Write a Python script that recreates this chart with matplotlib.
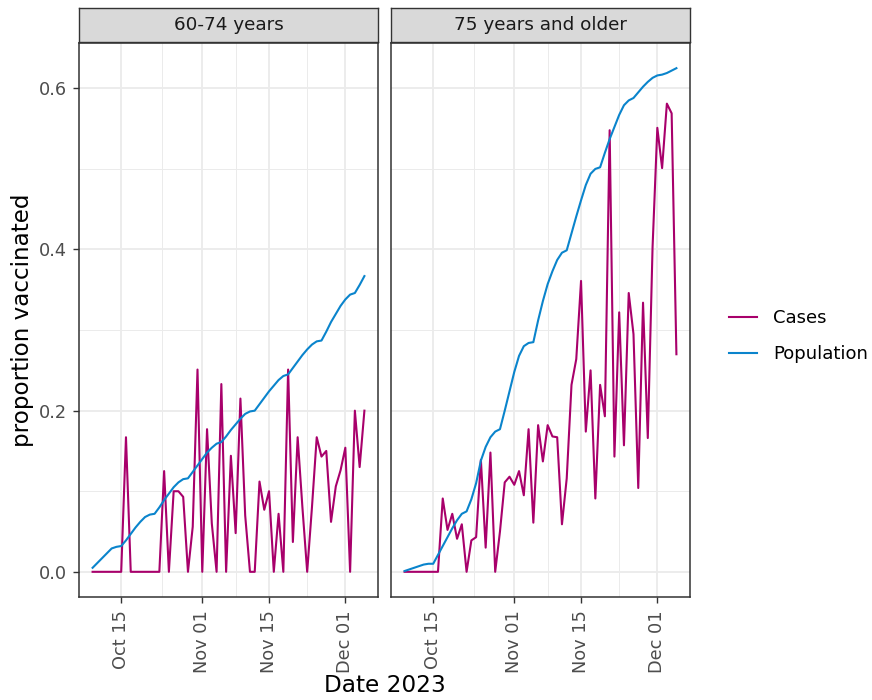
import numpy as np
import matplotlib
matplotlib.use("Agg")
import matplotlib.pyplot as plt
import matplotlib.dates as mdates

# daily values, Oct 09 to Dec 05 2023
dates = np.arange("2023-10-09", "2023-12-06", dtype="datetime64[D]")
panels = ["60-74 years", "75 years and older"]

cases_6074 = [0, 0, 0, 0, 0, 0, 0, 0.167, 0, 0,
              0, 0, 0, 0, 0, 0.125, 0, 0.10, 0.10, 0.093,
              0, 0.056, 0.251, 0, 0.177, 0.06, 0, 0.233, 0, 0.144,
              0.048, 0.215, 0.07, 0, 0, 0.112, 0.077, 0.10, 0, 0.072,
              0, 0.251, 0.037, 0.167, 0.08, 0, 0.08, 0.167, 0.143, 0.15,
              0.062, 0.106, 0.126, 0.154, 0, 0.20, 0.13, 0.20]
pop_6074 = [0.005, 0.011, 0.017, 0.023, 0.029, 0.031, 0.032, 0.039, 0.047, 0.055,
            0.062, 0.068, 0.071, 0.072, 0.080, 0.089, 0.097, 0.105, 0.111, 0.115,
            0.116, 0.124, 0.132, 0.140, 0.148, 0.154, 0.159, 0.161, 0.168, 0.176,
            0.183, 0.190, 0.196, 0.199, 0.200, 0.208, 0.216, 0.224, 0.231, 0.238,
            0.243, 0.245, 0.253, 0.261, 0.269, 0.276, 0.282, 0.286, 0.287, 0.298,
            0.310, 0.320, 0.330, 0.338, 0.344, 0.346, 0.356, 0.367]

cases_75 = [0, 0, 0, 0, 0, 0, 0, 0, 0.091, 0.052,
            0.072, 0.041, 0.059, 0, 0.039, 0.043, 0.139, 0.03, 0.148, 0,
            0.05, 0.111, 0.118, 0.108, 0.125, 0.095, 0.177, 0.061, 0.182, 0.137,
            0.182, 0.168, 0.167, 0.059, 0.116, 0.232, 0.264, 0.361, 0.174, 0.25,
            0.091, 0.232, 0.193, 0.548, 0.143, 0.322, 0.157, 0.346, 0.295, 0.104,
            0.334, 0.166, 0.403, 0.551, 0.501, 0.581, 0.569, 0.27]
pop_75 = [0.001, 0.003, 0.005, 0.007, 0.009, 0.010, 0.010, 0.021, 0.032, 0.043,
          0.054, 0.064, 0.072, 0.075, 0.090, 0.110, 0.138, 0.155, 0.167, 0.174,
          0.177, 0.200, 0.224, 0.248, 0.268, 0.280, 0.284, 0.285, 0.312, 0.336,
          0.357, 0.373, 0.387, 0.396, 0.399, 0.420, 0.441, 0.461, 0.480, 0.494,
          0.500, 0.502, 0.520, 0.537, 0.552, 0.567, 0.579, 0.585, 0.588, 0.595,
          0.602, 0.608, 0.613, 0.616, 0.617, 0.619, 0.622, 0.625]

cases = [cases_6074, cases_75]
pops = [pop_6074, pop_75]

col_cases = "#a8006b"
col_pop = "#0a84cc"

major = np.array(["2023-10-15", "2023-11-01", "2023-11-15", "2023-12-01"], dtype="datetime64[D]")
major_num = mdates.date2num(major)
minor_num = (major_num[:-1] + major_num[1:]) / 2
major_lab = ["Oct 15", "Nov 01", "Nov 15", "Dec 01"]

fig = plt.figure(figsize=(8.72, 7.0), dpi=100)

d0 = mdates.date2num(dates[0])
d1 = mdates.date2num(dates[-1])
xpad = (d1 - d0) * 0.05
ymax = max(max(cases_75), max(pop_75))
ypad = ymax * 0.05

lefts = [79 / 872, 391 / 872]
w = 299 / 872
bottom = 1 - 597 / 700
h = 554 / 700

for i in range(2):
    ax = fig.add_axes([lefts[i], bottom, w, h])
    ax.set_facecolor("white")
    ax.set_xlim(d0 - xpad, d1 + xpad)
    ax.set_ylim(-ypad, ymax + ypad)
    ax.set_xticks(major_num)
    ax.set_xticklabels(major_lab, rotation=90, va="top", ha="center")
    ax.set_xticks(minor_num, minor=True)
    ax.set_yticks([0, 0.2, 0.4, 0.6])
    ax.set_yticks([0.1, 0.3, 0.5], minor=True)
    ax.grid(which="major", color="#ebebeb", lw=1.3, zorder=0)
    ax.grid(which="minor", color="#ebebeb", lw=0.7, zorder=0)
    ax.set_axisbelow(True)
    ax.tick_params(which="major", length=4.4, width=1.0, color="#333333",
                   labelsize=12.8, labelcolor="#4d4d4d")
    ax.tick_params(axis="x", pad=5)
    ax.tick_params(axis="y", pad=4.3)
    ax.tick_params(which="minor", length=0)
    if i == 0:
        ax.set_yticklabels(["0.0", "0.2", "0.4", "0.6"])
    else:
        ax.tick_params(axis="y", which="both", left=False, labelleft=False)
    for s in ax.spines.values():
        s.set_color("#333333")
        s.set_linewidth(1.1)

    ax.plot(dates, cases[i], color=col_cases, lw=1.5, label="Cases")
    ax.plot(dates, pops[i], color=col_pop, lw=1.5, label="Population")

    # facet strip
    sax = fig.add_axes([lefts[i], 1 - 42 / 700, w, 34 / 700])
    sax.set_facecolor("#d9d9d9")
    sax.set_xticks([])
    sax.set_yticks([])
    for s in sax.spines.values():
        s.set_color("#333333")
        s.set_linewidth(1.0)
    sax.text(0.5, 0.5, panels[i], ha="center", va="center", fontsize=13.2,
             color="#1a1a1a", transform=sax.transAxes)

handles, labels = ax.get_legend_handles_labels()
fig.legend(handles, labels, loc="center left", bbox_to_anchor=(729 / 872, 1 - 336 / 700),
           frameon=False, fontsize=13, handlelength=1.55, handletextpad=0.9,
           labelspacing=1.0, borderpad=0, borderaxespad=0)

fig.text(22 / 872, 1 - 320 / 700, "proportion vaccinated", rotation=90,
         ha="center", va="center", fontsize=16.6)
fig.text(384.5 / 872, 1 - 685 / 700, "Date 2023", ha="center", va="center", fontsize=16.7)

fig.savefig("out.png", dpi=100)
